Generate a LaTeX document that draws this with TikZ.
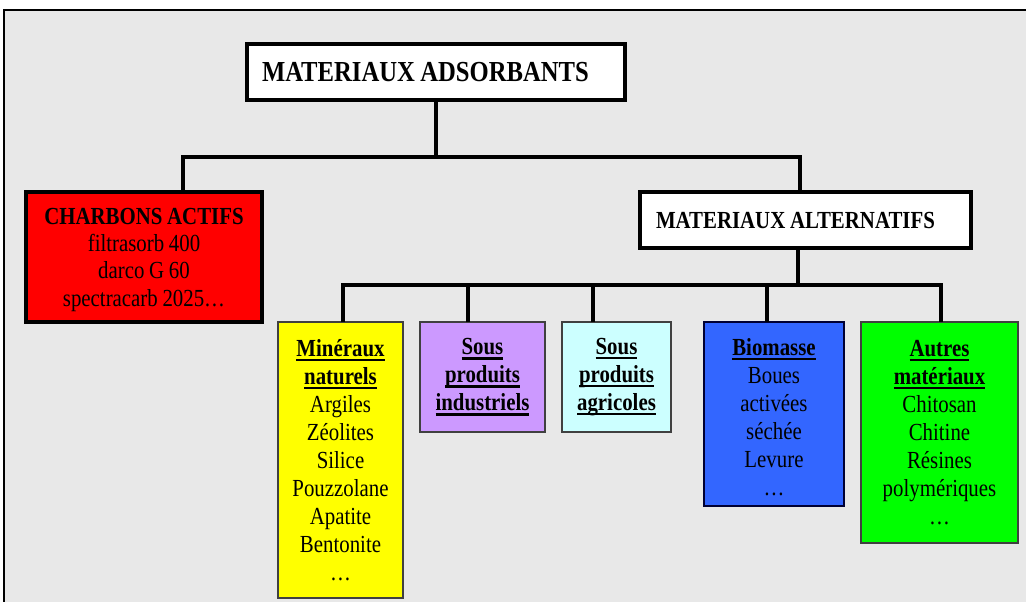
\documentclass[tikz,border=0pt]{standalone}
\usepackage{fontspec}
\setmainfont{Liberation Serif}[FakeStretch=0.85]
\definecolor{bggray}{RGB}{232,232,232}
\definecolor{cred}{RGB}{255,0,0}
\definecolor{cyel}{RGB}{255,255,0}
\definecolor{clav}{RGB}{204,153,255}
\definecolor{ccyan}{RGB}{204,255,255}
\definecolor{cblue}{RGB}{51,102,255}
\definecolor{cgreen}{RGB}{0,255,0}
\newcommand\myul[1]{\leavevmode\setbox0=\hbox{\textbf{#1}}\rlap{\rule[-3.8pt]{\wd0}{2pt}}\box0}
\newcommand\hgt[1]{\rule{0pt}{#1}}
\newcommand\wsp{\hspace{0.19em}}
\begin{document}
\begin{tikzpicture}[x=0.75pt,y=-0.75pt,
  bodyfont/.style={font=\fontsize{18.4pt}{21pt}\selectfont},
  topbox/.style={draw=black,line width=3pt,fill=white,inner sep=0pt,outer sep=0pt,align=left,minimum height=42pt},
  catbox/.style={draw=black!75,line width=1pt,inner sep=2pt,outer sep=0pt,align=center,bodyfont},
  conn/.style={draw=black,line width=3pt}]
\clip (0,0) rectangle (1026,601);
\useasboundingbox (0,0) rectangle (1026,601);
\fill[white] (0,0) rectangle (1026,601);
\filldraw[fill=bggray,draw=black,line width=1.5pt] (4,10) rectangle (1045,620);

\node[topbox,inner xsep=11.25pt,text width=261pt,font=\fontsize{21.75pt}{24pt}\selectfont\bfseries] (ads) at (436,72) {MATERIAUX\wsp ADSORBANTS};
\node[topbox,fill=cred,align=center,text width=171pt,minimum height=97.5pt,inner xsep=3pt,font=\fontsize{18.4pt}{20.4pt}\selectfont] (charb) at (144,257)
  {\hgt{16.5pt}\textbf{CHARBONS\wsp ACTIFS}\\filtrasorb\wsp 400\\darco\wsp G\wsp 60\\spectracarb\wsp 2025…};
\node[topbox,inner xsep=12pt,text width=224.25pt,font=\fontsize{18.4pt}{21pt}\selectfont\bfseries] (alt) at (805.5,220) {MATERIAUX\wsp ALTERNATIFS};

\node[catbox,fill=cyel,text width=89.75pt,minimum height=207pt] (min) at (340.5,460)
  {\myul{Minéraux}\\\myul{naturels}\\Argiles\\Zéolites\\Silice\\Pouzzolane\\Apatite\\Bentonite\\\ldots};
\node[catbox,fill=clav,text width=89.75pt,minimum height=82.5pt] (ind) at (482.5,377)
  {\myul{Sous}\\\myul{produits}\\\myul{industriels}};
\node[catbox,fill=ccyan,text width=77.75pt,minimum height=82.5pt] (agr) at (616.5,377)
  {\myul{Sous}\\\myul{produits}\\\myul{agricoles}};
\node[catbox,fill=cblue,draw=black!80!blue,text width=101pt,minimum height=138pt] (bio) at (774,414)
  {\hgt{17pt}\myul{Biomasse}\\Boues\\activées\\séchée\\Levure\\\ldots};
\node[catbox,fill=cgreen,text width=113.75pt,minimum height=165.75pt] (aut) at (939.5,432.5)
  {\myul{Autres}\\\myul{matériaux}\\Chitosan\\Chitine\\Résines\\polymériques\\\ldots};

% junctions
\coordinate (j1) at (ads.south |- 0,157);
\coordinate (c1) at (183,192);
\coordinate (c2) at (800,192);
\coordinate (j2) at (798,285);
\coordinate (d1) at (343,322);
\coordinate (d2) at (468,322);
\coordinate (d3) at (593,322);
\coordinate (d4) at (767,322);
\coordinate (d5) at (941,322);

\draw[conn] (ads.south) -- (j1);
\draw[conn] (c1) |- (j1) -| (c2);
\draw[conn] (alt.south -| j2) -- (j2);
\draw[conn] (d1) |- (j2) -| (d5);
\draw[conn] (d2) -- (d2 |- j2);
\draw[conn] (d3) -- (d3 |- j2);
\draw[conn] (d4) -- (d4 |- j2);
\end{tikzpicture}
\end{document}
